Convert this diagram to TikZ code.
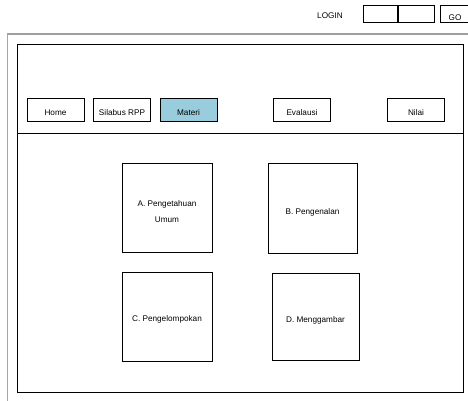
\documentclass[tikz,border=0pt]{standalone}
\usepackage{fontspec}
\setmainfont{Liberation Sans}
\definecolor{activetab}{RGB}{153,204,221}
\begin{document}
\begin{tikzpicture}[x=1pt,y=-1pt,
  font=\fontsize{8.2}{9}\selectfont,
  box/.style={draw=black,line width=0.8pt,inner sep=0pt},
  navbtn/.style={box,minimum width=57pt,minimum height=23pt,text height=12pt,text depth=0pt},
  cardtext/.style={yshift=-4pt,align=center}]
\useasboundingbox (0,0) rectangle (468,400);
% outer page frame
\draw[gray!75,line width=2pt] (7,34) -- (470,34);
\draw[gray!70,line width=1pt] (7,34) -- (7,402);
% login bar
\node (login) at (330,16) {LOGIN};
\node[box,minimum width=34pt,minimum height=17pt] (user) at (380,14) {};
\node[box,minimum width=36pt,minimum height=17pt] (pass) at (416,14) {};
\node[box,minimum width=34pt,minimum height=17pt,anchor=west] (go) at (440,14) {};
\node at (455,18) {GO};
% main window
\node[box,minimum width=446pt,minimum height=348pt,anchor=north west] (win) at (17,44) {};
\draw[line width=0.8pt] (win.west |- 0,133) -- (win.east |- 0,133);
% navigation
\node[navbtn] (home) at (55.5,109.5) {Home};
\node[navbtn] (silabus) at (122,109.5) {Silabus RPP};
\node[navbtn,fill=activetab] (materi) at (188.5,109.5) {Materi};
\node[navbtn] (evaluasi) at (302,109.5) {Evalausi};
\node[navbtn] (nilai) at (416,109.5) {Nilai};
% topic cards
\node[box,minimum width=90pt,minimum height=89pt] (a) at (167,207.5) {};
\node[cardtext,font=\fontsize{8.2}{16.5}\selectfont] at (a) {A. Pengetahuan\\Umum};
\node[box,minimum width=89pt,minimum height=90pt] (b) at (312.5,208) {};
\node[cardtext] at (b) {B. Pengenalan};
\node[box,minimum width=90pt,minimum height=89pt] (c) at (167,316.5) {};
\node[cardtext,yshift=1.5pt] at (c) {C. Pengelompokan};
\node[box,minimum width=87pt,minimum height=87pt] (d) at (315.5,316.5) {};
\node[cardtext] at (d) {D. Menggambar};
\end{tikzpicture}
\end{document}
